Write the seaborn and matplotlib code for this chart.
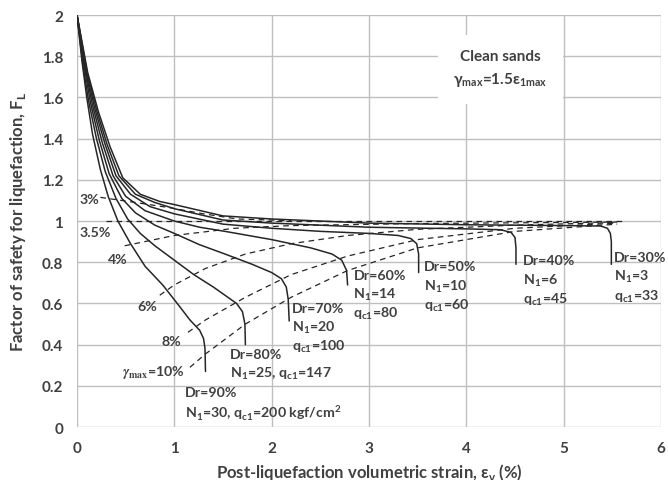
import matplotlib
matplotlib.use("Agg")
import matplotlib.pyplot as plt
import pandas as pd
import seaborn as sns

# ---- Post-liquefaction volumetric strain curves (ev in %, FL) ----
dr90_ev = [0, 0.05, 0.10, 0.16, 0.24, 0.32, 0.42, 0.55, 0.70, 0.88, 1.03, 1.16, 1.26, 1.30, 1.315, 1.32]
dr90_fl = [2.0, 1.78, 1.60, 1.42, 1.25, 1.12, 1.00, 0.89, 0.78, 0.69, 0.60, 0.52, 0.47, 0.43, 0.38, 0.27]

dr80_ev = [0, 0.06, 0.12, 0.20, 0.29, 0.40, 0.52, 0.65, 0.80, 1.00, 1.20, 1.40, 1.55, 1.64, 1.70, 1.725, 1.73]
dr80_fl = [2.0, 1.76, 1.58, 1.40, 1.24, 1.11, 1.01, 0.94, 0.88, 0.81, 0.74, 0.68, 0.63, 0.60, 0.56, 0.50, 0.40]

dr70_ev = [0, 0.07, 0.14, 0.23, 0.33, 0.46, 0.60, 0.80, 1.00, 1.26, 1.52, 1.80, 2.00, 2.10, 2.15, 2.17, 2.18]
dr70_fl = [2.0, 1.76, 1.57, 1.39, 1.23, 1.11, 1.04, 0.98, 0.94, 0.885, 0.84, 0.79, 0.75, 0.72, 0.68, 0.62, 0.515]

dr60_ev = [0, 0.08, 0.16, 0.26, 0.37, 0.50, 0.70, 1.00, 1.26, 1.52, 2.00, 2.40, 2.62, 2.72, 2.77, 2.78]
dr60_fl = [2.0, 1.75, 1.56, 1.38, 1.22, 1.12, 1.05, 1.00, 0.97, 0.95, 0.91, 0.87, 0.84, 0.81, 0.76, 0.69]

dr50_ev = [0, 0.09, 0.18, 0.29, 0.40, 0.55, 0.75, 1.00, 1.50, 2.00, 2.50, 3.00, 3.30, 3.43, 3.49, 3.51, 3.51]
dr50_fl = [2.0, 1.74, 1.55, 1.37, 1.22, 1.13, 1.07, 1.035, 0.985, 0.965, 0.95, 0.94, 0.93, 0.915, 0.89, 0.84, 0.75]

dr40_ev = [0, 0.10, 0.20, 0.31, 0.43, 0.60, 0.80, 1.00, 1.50, 2.00, 3.00, 4.00, 4.35, 4.46, 4.50, 4.51, 4.51]
dr40_fl = [2.0, 1.73, 1.54, 1.37, 1.22, 1.13, 1.09, 1.06, 1.005, 0.99, 0.97, 0.962, 0.958, 0.945, 0.92, 0.87, 0.79]

dr30_ev = [0, 0.11, 0.22, 0.34, 0.47, 0.65, 0.85, 1.00, 1.50, 2.00, 3.00, 4.00, 5.00, 5.38, 5.45, 5.48, 5.49, 5.49]
dr30_fl = [2.0, 1.72, 1.53, 1.36, 1.21, 1.13, 1.095, 1.08, 1.025, 1.01, 0.99, 0.982, 0.978, 0.976, 0.965, 0.94, 0.90, 0.79]

# ---- Maximum shear strain contours (gamma_max) ----
g3_ev = [0.24, 0.60, 0.95, 1.30, 1.65, 2.20]
g3_fl = [1.115, 1.09, 1.065, 1.035, 1.01, 1.002]

g35_ev = [0.30, 5.60]
g35_fl = [1.00, 1.00]

g4_ev = [0.49, 1.00, 1.62, 2.20, 3.50, 5.55]
g4_fl = [0.88, 0.93, 0.965, 0.978, 0.988, 0.995]

g6_ev = [0.85, 1.00, 1.32, 1.73, 2.20, 2.78, 3.50, 4.50, 5.55]
g6_fl = [0.64, 0.69, 0.77, 0.84, 0.89, 0.93, 0.96, 0.98, 0.993]

g8_ev = [1.14, 1.32, 1.73, 2.20, 2.78, 3.50, 4.50, 5.55]
g8_fl = [0.46, 0.52, 0.63, 0.74, 0.83, 0.91, 0.965, 0.99]

g10_ev = [1.16, 1.32, 1.73, 2.20, 2.78, 3.50, 4.50, 5.55]
g10_fl = [0.29, 0.355, 0.50, 0.63, 0.76, 0.87, 0.95, 0.985]

x_ticks = [0, 1, 2, 3, 4, 5, 6]
y_ticks = [0, 0.2, 0.4, 0.6, 0.8, 1, 1.2, 1.4, 1.6, 1.8, 2]
y_tick_labels = ["0", "0.2", "0.4", "0.6", "0.8", "1", "1.2", "1.4", "1.6", "1.8", "2"]

sub = lambda s: r"$_\mathregular{" + s + "}$"

dr_text = [
    ["Dr=90%", "N" + sub("1") + "=30, q" + sub("c1") + "=200 kgf/cm" + r"$^\mathregular{2}$"],
    ["Dr=80%", "N" + sub("1") + "=25, q" + sub("c1") + "=147"],
    ["Dr=70%", "N" + sub("1") + "=20", "q" + sub("c1") + "=100"],
    ["Dr=60%", "N" + sub("1") + "=14", "q" + sub("c1") + "=80"],
    ["Dr=50%", "N" + sub("1") + "=10", "q" + sub("c1") + "=60"],
    ["Dr=40%", "N" + sub("1") + "=6", "q" + sub("c1") + "=45"],
    ["Dr=30%", "N" + sub("1") + "=3", "q" + sub("c1") + "=33"],
]
gamma_text = ["3%", "3.5%", "4%", "6%", "8%", r"$\gamma_{\mathrm{max}}$" + "=10%"]

# ---- figure ----
sns.set_theme(style="white")
plt.rcParams["font.family"] = ["Lato", "DejaVu Sans"]
plt.rcParams["font.weight"] = "bold"
TXT = "#404040"
GRID = "#bfbfbf"

fig = plt.figure(figsize=(6.68, 4.81), dpi=100)
ax = fig.add_axes([0.1153, 0.110, 0.9895 - 0.1153, 0.9667 - 0.110])

curves = [(dr90_ev, dr90_fl), (dr80_ev, dr80_fl), (dr70_ev, dr70_fl), (dr60_ev, dr60_fl),
          (dr50_ev, dr50_fl), (dr40_ev, dr40_fl), (dr30_ev, dr30_fl)]
contours = [(g3_ev, g3_fl), (g35_ev, g35_fl), (g4_ev, g4_fl), (g6_ev, g6_fl),
            (g8_ev, g8_fl), (g10_ev, g10_fl)]

for ev, fl in contours:
    df = pd.DataFrame({"ev": ev, "fl": fl})
    sns.lineplot(data=df, x="ev", y="fl", sort=False, estimator=None, ax=ax,
                 color="#262626", linewidth=0.9, linestyle=(0, (4.5, 3.5)))

for ev, fl in curves:
    df = pd.DataFrame({"ev": ev, "fl": fl})
    sns.lineplot(data=df, x="ev", y="fl", sort=False, estimator=None, ax=ax,
                 color="#262626", linewidth=1.1)

ax.set_xlim(0, 6)
ax.set_ylim(0, 2)
ax.set_xticks(x_ticks)
ax.set_yticks(y_ticks)
ax.set_yticklabels(y_tick_labels)
ax.grid(True, color=GRID, linewidth=1.0)
ax.set_axisbelow(True)
for s in ax.spines.values():
    s.set_visible(False)
ax.tick_params(axis="both", length=4, width=1.0, color=GRID, labelsize=11,
               labelcolor=TXT, pad=6)
for lab in ax.get_xticklabels() + ax.get_yticklabels():
    lab.set_fontweight("bold")

ax.set_xlabel(r"Post-liquefaction volumetric strain, ε$_\mathregular{v}$ (%)",
              fontsize=12, fontweight="bold", color=TXT, labelpad=4)
ax.set_ylabel(r"Factor of safety for liquefaction, F$_\mathregular{L}$",
              fontsize=12, fontweight="bold", color=TXT, labelpad=10)

# curve annotations
dr_pos = [(1.11, 0.17), (1.57, 0.355), (2.21, 0.58), (2.84, 0.74),
          (3.56, 0.78), (4.58, 0.81), (5.52, 0.825)]
step = 0.093
for (x, y), lines in zip(dr_pos, dr_text):
    for i, t in enumerate(lines):
        ax.text(x, y - i * step, t, fontsize=10.2, fontweight="bold", color=TXT,
                ha="left", va="center")

gamma_pos = [(0.03, 1.107), (0.03, 0.947), (0.32, 0.815), (0.62, 0.587),
             (0.87, 0.418), (0.46, 0.272)]
for (x, y), t in zip(gamma_pos, gamma_text):
    ax.text(x, y, t, fontsize=10.2, fontweight="bold", color=TXT, ha="left",
            va="center", math_fontfamily="stix")

ax.text(4.35, 1.74, "Clean sands\n" + "γ" + sub("max") + "=1.5ε" + sub("1max"),
        fontsize=11, fontweight="bold", color=TXT, ha="center", va="center",
        linespacing=1.6,
        bbox=dict(boxstyle="square,pad=1.0", facecolor="white", edgecolor="none"))

fig.savefig("out.png", dpi=100)
